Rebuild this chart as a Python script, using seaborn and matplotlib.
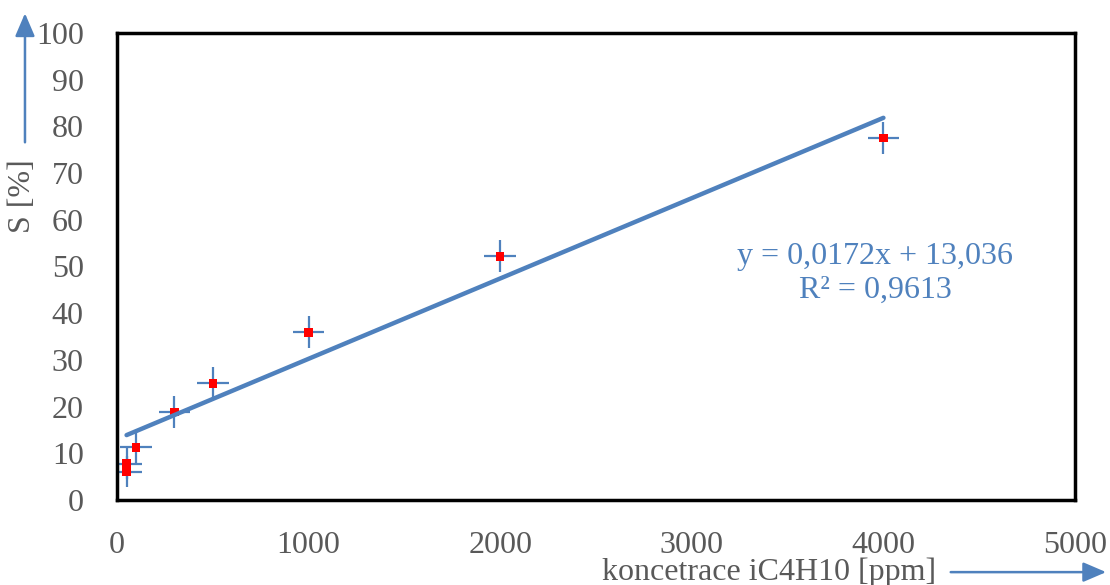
import matplotlib
matplotlib.use("Agg")
import matplotlib.pyplot as plt
import seaborn as sns
import numpy as np
import pandas as pd

# data
conc = [50, 50, 100, 300, 500, 1000, 2000, 4000]
sens = [7.8, 6.1, 11.3, 18.8, 25.0, 35.9, 52.2, 77.5]
x_err = [82, 82, 82, 82, 82, 82, 82, 82]
y_err = [3.4, 3.4, 3.4, 3.4, 3.4, 3.4, 3.4, 3.4]
slope = 0.0172
intercept = 13.036
r2 = 0.9613
trend_x = [50, 4000]
x_ticks = [0, 1000, 2000, 3000, 4000, 5000]
y_ticks = [0, 10, 20, 30, 40, 50, 60, 70, 80, 90, 100]

sns.set_theme(style="white")
plt.rcParams['font.family'] = ['Liberation Serif', 'DejaVu Serif']

blue = "#4F81BD"
grey = "#595959"

fig = plt.figure(figsize=(11.1, 5.85), dpi=100)
ax = fig.add_axes([0.1054, 0.1453, 0.8631, 0.7983])

df = pd.DataFrame({"x": conc, "y": sens})
ax.errorbar(conc, sens, xerr=x_err, yerr=y_err, fmt="none", ecolor=blue,
            elinewidth=1.6, capsize=0, zorder=2)
sns.scatterplot(data=df, x="x", y="y", ax=ax, marker="s", color="#FF0000",
                s=38, edgecolor="none", zorder=3)
tdf = pd.DataFrame({"x": trend_x, "y": [slope * v + intercept for v in trend_x]})
sns.lineplot(data=tdf, x="x", y="y", ax=ax, color=blue, linewidth=3.2,
             solid_capstyle="round", zorder=4)

ax.set_xlim(0, 5000)
ax.set_ylim(0, 100)
ax.set_xticks(x_ticks)
ax.set_yticks(y_ticks)
ax.set_xticklabels([str(v) for v in x_ticks])
ax.set_yticklabels([str(v) for v in y_ticks])
ax.tick_params(axis="both", length=0, labelsize=23, labelcolor=grey)
ax.tick_params(axis="y", pad=24)
ax.tick_params(axis="x", pad=22)
ax.set_xlabel("")
ax.set_ylabel("")
ax.grid(False)
for s in ax.spines.values():
    s.set_visible(True)
    s.set_color("black")
    s.set_linewidth(2.5)

eq = f"y = {slope}x + {intercept}".replace(".", ",")
r2txt = f"R² = {r2}".replace(".", ",")
ax.text(3956, 48.5, eq + "\n" + r2txt, transform=ax.transData, ha="center",
        va="center", color=blue, fontsize=23, linespacing=1.25)

fig.text(0.02, 0.665, "S [%]", rotation=90, ha="center", va="center",
         fontsize=23, color=grey)
fig.text(0.693, 0.022, "koncetrace iC4H10 [ppm]", ha="center", va="center",
         fontsize=23, color=grey)

fig.patches.append(matplotlib.patches.FancyArrowPatch(
    (0.0225, 0.752), (0.0225, 0.982), transform=fig.transFigure,
    arrowstyle="-|>,head_length=14,head_width=6", color=blue, linewidth=1.8,
    mutation_scale=1))
fig.patches.append(matplotlib.patches.FancyArrowPatch(
    (0.854, 0.022), (0.999, 0.022), transform=fig.transFigure,
    arrowstyle="-|>,head_length=14,head_width=6", color=blue, linewidth=1.8,
    mutation_scale=1))

fig.savefig("out.png", dpi=100)
